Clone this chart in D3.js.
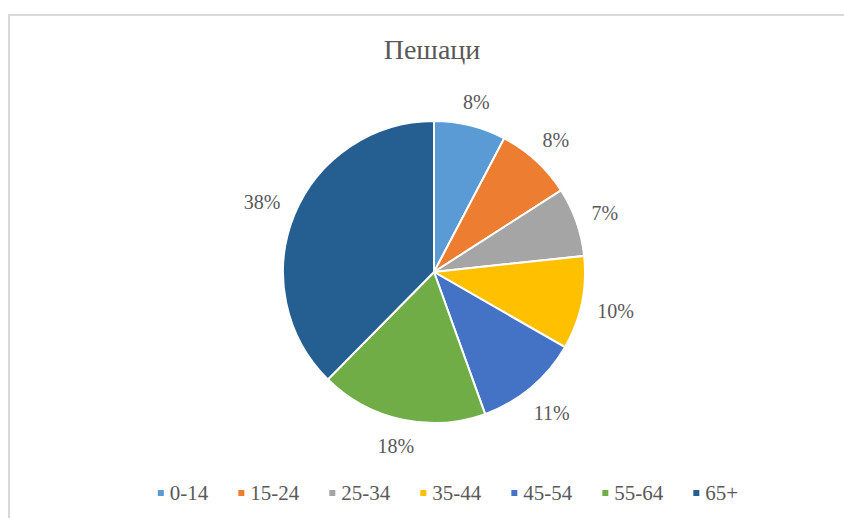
<!DOCTYPE html>
<html>
<head>
<meta charset="utf-8">
<script src="https://cdn.jsdelivr.net/npm/d3@7"></script>
<style>
  html, body { margin: 0; padding: 0; background: #fff; }
  svg { display: block; }
</style>
</head>
<body>
<svg id="chart" width="844" height="518"></svg>
<script>
const title = "Пешаци";
const categories = ["0-14", "15-24", "25-34", "35-44", "45-54", "55-64", "65+"];
const values = [7.7, 8.2, 7.4, 10.0, 11.2, 17.9, 37.6];
const colors = ["#5B9BD5", "#ED7D31", "#A5A5A5", "#FFC000", "#4472C4", "#70AD47", "#255E91"];

const FONT = "Liberation Serif, DejaVu Serif, serif";
const TXT = "#595959";
const svg = d3.select("#chart");

// frame
svg.append("rect")
  .attr("x", 9).attr("y", 15)
  .attr("width", 900).attr("height", 600)
  .attr("fill", "#fff")
  .attr("stroke", "#d9d9d9").attr("stroke-width", 2);

// title
svg.append("text")
  .attr("x", 432).attr("y", 59)
  .attr("text-anchor", "middle")
  .style("font-family", FONT)
  .attr("fill", TXT)
  .attr("font-size", 28)
  .text(title);

const cx = 434, cy = 272, R = 151;
const total = d3.sum(values);
const pie = d3.pie().sort(null).value(d => d)(values);
const arc = d3.arc().innerRadius(0).outerRadius(R);

const g = svg.append("g").attr("transform", `translate(${cx},${cy})`);
g.selectAll("path.slice")
  .data(pie)
  .join("path")
  .attr("class", "slice")
  .attr("d", arc)
  .attr("fill", (d, i) => colors[i])
  .attr("stroke", "#fff")
  .attr("stroke-width", 2);

// labels outside end
const fmt = v => Math.round(v / total * 100) + "%";
const gap = 15;
g.selectAll("text.lbl")
  .data(pie)
  .join("text")
  .attr("class", "lbl")
  .style("font-family", FONT)
  .attr("fill", TXT)
  .attr("font-size", 20)
  .attr("text-anchor", "middle")
  .attr("dominant-baseline", "central")
  .text(d => fmt(d.data))
  .each(function(d) {
    const w = this.getComputedTextLength();
    const h = 15;
    const a = (d.startAngle + d.endAngle) / 2;
    const sx = Math.sin(a), cy2 = -Math.cos(a);
    const ext = Math.abs(sx) * w / 2 + Math.abs(cy2) * h / 2;
    const r = R + gap + ext;
    d3.select(this).attr("x", sx * r).attr("y", cy2 * r + 1);
  });

// legend
const legend = svg.append("g");
const items = legend.selectAll("g.item")
  .data(categories)
  .join("g")
  .attr("class", "item");
items.append("rect")
  .attr("width", 6).attr("height", 6)
  .attr("y", -3)
  .attr("fill", (d, i) => colors[i]);
items.append("text")
  .attr("x", 12)
  .attr("y", 7)
  .style("font-family", FONT)
  .attr("fill", TXT)
  .attr("font-size", 21)
  .text(d => d);
let xPos = 0;
const spacing = 30;
items.each(function() {
  const tw = d3.select(this).select("text").node().getComputedTextLength();
  d3.select(this).attr("data-x", xPos);
  xPos += 12 + tw + spacing;
});
const totalW = xPos - spacing;
const startX = 448 - totalW / 2;
items.attr("transform", function() {
  return `translate(${startX + (+d3.select(this).attr("data-x"))},493)`;
});
</script>
</body>
</html>
